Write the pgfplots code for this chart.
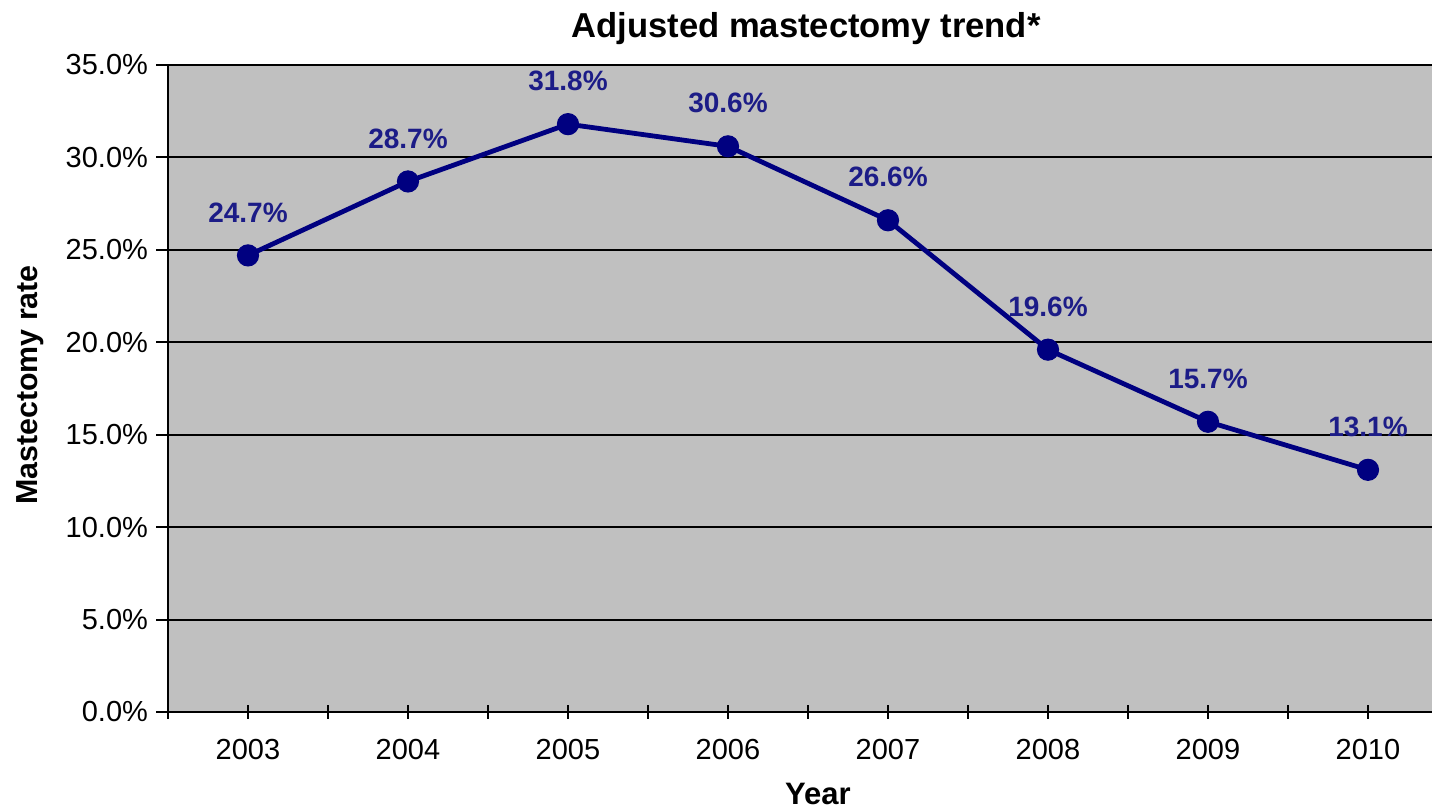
\documentclass[border=0pt]{standalone}
\usepackage{pgfplots}
\pgfplotsset{compat=1.18}
\usepackage{fontspec}
\setmainfont{Liberation Sans}
\definecolor{plotgray}{RGB}{192,192,192}
\definecolor{linenavy}{RGB}{0,0,128}
\definecolor{labnavy}{RGB}{28,28,135}
\begin{document}
\begin{tikzpicture}
\path[use as bounding box] (0,0) rectangle (716pt,405pt);
\begin{axis}[
  at={(84pt,49pt)}, anchor=south west,
  scale only axis,
  width=640pt, height=323.5pt,
  xmin=2002.5, xmax=2010.5,
  ymin=0, ymax=35,
  axis background/.style={fill=plotgray},
  axis line style={black, line width=1.2pt},
  xtick={2003,2004,2005,2006,2007,2008,2009,2010},
  xticklabels={2003,2004,2005,2006,2007,2008,2009,2010},
  minor xtick={2002.5,2003.5,2004.5,2005.5,2006.5,2007.5,2008.5,2009.5,2010.5},
  ytick={0,5,10,15,20,25,30,35},
  yticklabel={\pgfmathprintnumber[fixed,fixed zerofill,precision=1]{\tick}\%},
  /pgf/number format/assume math mode=true,
  tick align=center,
  major tick length=7pt, minor tick length=7pt,
  tick style={black, line width=1pt},
  y tick style={xshift=-2.5pt},
  xtick pos=bottom, ytick pos=left,
  ymajorgrids,
  major grid style={black, line width=1pt},
  tick label style={font=\fontsize{14.5}{17}\selectfont},
  xticklabel style={yshift=-6.5pt},
  yticklabel style={xshift=-3pt},
  clip=false,
  nodes near coords={\pgfmathprintnumber[fixed,fixed zerofill,precision=1]{\pgfplotspointmeta}\%},
  point meta=y,
  every node near coord/.append style={font=\bfseries\fontsize{14}{16}\selectfont, text=labnavy, anchor=center, yshift=21.5pt},
]
\addplot[color=linenavy, line width=2.4pt, mark=*, mark size=5.3pt, mark options={fill=linenavy, draw=linenavy, line width=0.5pt}]
coordinates {
(2003,24.7) (2004,28.7) (2005,31.8) (2006,30.6) (2007,26.6) (2008,19.6) (2009,15.7) (2010,13.1)
};
\end{axis}
\node[anchor=base, font=\bfseries\fontsize{17.3}{20}\selectfont] at (403pt,386pt) {Adjusted mastectomy trend*};
\node[anchor=base, font=\bfseries\fontsize{15.5}{18}\selectfont] at (409pt,2.5pt) {Year};
\node[rotate=90, anchor=center, font=\bfseries\fontsize{15.2}{18}\selectfont] at (15pt,212.5pt) {Mastectomy rate};
\end{tikzpicture}
\end{document}
